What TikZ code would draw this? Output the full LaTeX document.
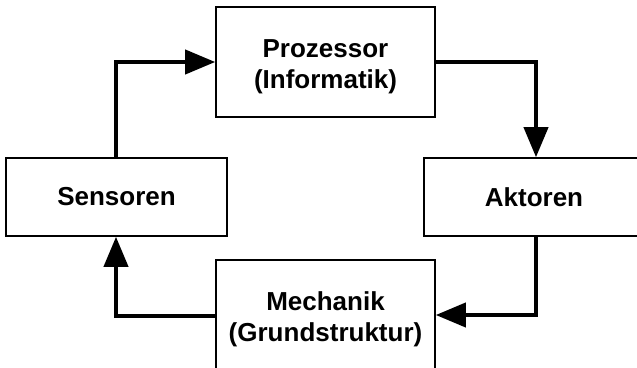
\documentclass[tikz,border=0pt]{standalone}
\usepackage{fontspec}
\setmainfont{Liberation Sans}
\usetikzlibrary{arrows.meta}
\newcommand{\topstrut}{\rule{0pt}{27pt}}
\begin{document}
\begin{tikzpicture}[x=1pt,y=-1pt,
  blockbox/.style={draw=black,line width=1.6pt,rectangle,inner sep=0pt,align=center,
    font=\fontsize{26}{31}\selectfont\bfseries},
  flow/.style={line width=4pt,-{Triangle[length=30pt,width=24pt]}}]
\useasboundingbox (0,0) rectangle (637,367);
\clip (0,0) rectangle (637,367);
\node[blockbox,minimum width=219pt,minimum height=110pt] (proz) at (325.5,62) {\topstrut Prozessor\\(Informatik)};
\node[blockbox,minimum width=221pt,minimum height=78pt] (sens) at (116.5,197) {Sensoren};
\node[blockbox,minimum width=220pt,minimum height=78pt] (akt) at (534,197) {Aktoren};
\node[blockbox,minimum width=219pt,minimum height=111pt] (mech) at (325.5,315.5) {\topstrut Mechanik\\(Grundstruktur)};
\coordinate (c1) at (116,62);
\coordinate (c2) at (536,62);
\coordinate (c3) at (536,315);
\coordinate (c4) at (116,316);
\draw[flow] (sens.north -| c1) -- (c1) -- (proz.west |- c1);
\draw[flow] (proz.east |- c2) -- (c2) -- (akt.north -| c2);
\draw[flow] (akt.south -| c3) -- (c3) -- (mech.east |- c3);
\draw[flow] (mech.west |- c4) -- (c4) -- (sens.south -| c4);
\end{tikzpicture}
\end{document}
